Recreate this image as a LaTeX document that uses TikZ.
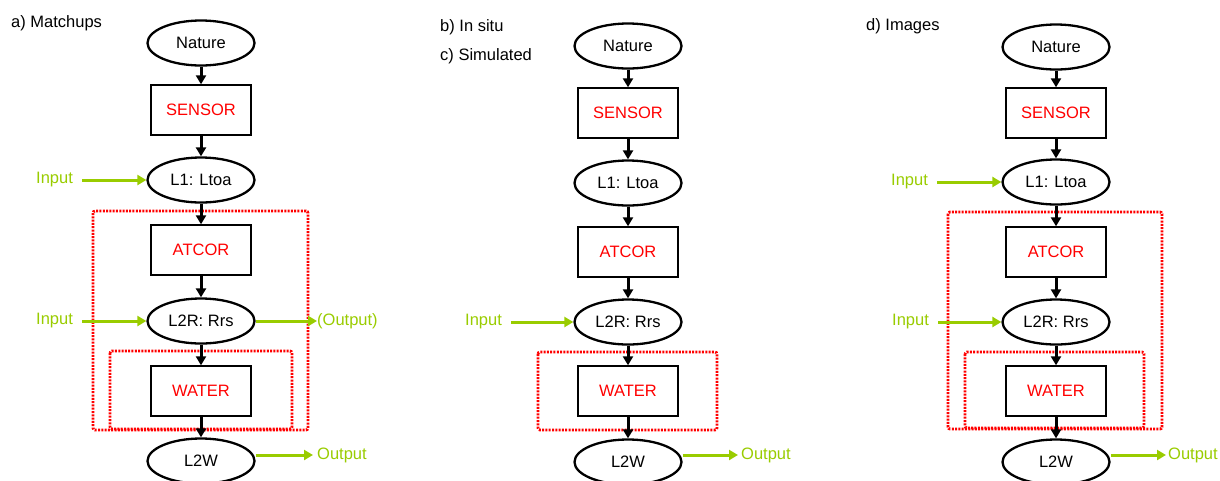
\documentclass[tikz,border=0pt]{standalone}
\usepackage{fontspec}
\setmainfont{Liberation Sans}
\usetikzlibrary{shapes,arrows.meta}
\definecolor{limegreen}{RGB}{153,204,0}

\begin{document}
\begin{tikzpicture}[x=1pt,y=-1pt,
  every node/.style={font=\fontsize{16.5}{19}\selectfont,inner sep=0pt},
  level/.style={draw,ellipse,line width=2.3pt,minimum width=107pt,minimum height=45pt},
  proc/.style={draw,rectangle,line width=1.4pt,minimum width=100pt,minimum height=50pt,text=red},
  flow/.style={-{Triangle[length=9pt,width=10pt]},line width=3pt},
  io/.style={-{Triangle[length=9pt,width=10pt]},line width=3pt,limegreen},
  iotext/.style={text=limegreen,anchor=west},
  frame/.style={red,line width=2.8pt,dash pattern=on 2pt off 1.3pt,rounded corners=2pt}]

  \useasboundingbox (0,0) rectangle (1220,480);

  % a) matchups
  \begin{scope}
    \def \x {201}
    \node[anchor=west] (ta) at (11,23) {a) Matchups};
    \draw[frame] (93,211) rectangle (308,430);
    \draw[frame] (110,351) rectangle (292,429);

    \node[level] (na) at (\x,43) {Nature};
    \node[proc] (sa) at (\x,110) {SENSOR};
    \node[level] (la) at (\x,180) {L1: Ltoa};
    \node[proc] (aa) at (\x,250) {ATCOR};
    \node[level] (ra) at (\x,321) {L2R: Rrs};
    \node[proc] (wa) at (\x,391) {WATER};
    \node[level] (wla) at (\x,461) {L2W};

    \draw[flow] (na) -- (sa);
    \draw[flow] (sa) -- (la);
    \draw[flow] (la) -- (aa);
    \draw[flow] (aa) -- (ra);
    \draw[flow] (ra) -- (wa);
    \draw[flow] (wa) -- (wla);

    \node[iotext] (ia1) at (36,180) {Input};
    \node[iotext] (ia2) at (36,321) {Input};
    \node[iotext] (oa1) at (317,321) {(Output)};
    \node[iotext] (oa2) at (317,455) {Output};
    \draw[io,shorten <=9pt] (ia1) -- (la);
    \draw[io,shorten <=9pt] (ia2) -- (ra);
    \draw[io] (ra) -- (oa1);
    \draw[io,shorten >=4pt] (wla.east |- oa2) -- (oa2);
  \end{scope}

  % b) in situ, c) simulated
  \begin{scope}
    \def \x {628}
    \node[anchor=west] (tb) at (440,27) {b) In situ};
    \node[anchor=west] (tc) at (440,56) {c) Simulated};
    \draw[frame] (538,352) rectangle (717,430);

    \node[level] (nb) at (\x,46) {Nature};
    \node[proc] (sb) at (\x,113) {SENSOR};
    \node[level] (lb) at (\x,183) {L1: Ltoa};
    \node[proc] (ab) at (\x,252) {ATCOR};
    \node[level] (rb) at (\x,322) {L2R: Rrs};
    \node[proc] (wb) at (\x,391) {WATER};
    \node[level] (wlb) at (\x,462) {L2W};

    \draw[flow] (nb) -- (sb);
    \draw[flow] (sb) -- (lb);
    \draw[flow] (lb) -- (ab);
    \draw[flow] (ab) -- (rb);
    \draw[flow] (rb) -- (wb);
    \draw[flow] (wb) -- (wlb);

    \node[iotext] (ib) at (465,322) {Input};
    \node[iotext] (ob) at (741,455) {Output};
    \draw[io,shorten <=9pt] (ib) -- (rb);
    \draw[io,shorten >=3pt] (wlb.east |- ob) -- (ob);
  \end{scope}

  % d) images
  \begin{scope}
    \def \x {1056}
    \node[anchor=west] (td) at (866,26) {d) Images};
    \draw[frame] (948,212) rectangle (1162,429);
    \draw[frame] (965,352) rectangle (1144,428);

    \node[level] (nd) at (\x,47) {Nature};
    \node[proc] (sd) at (\x,113) {SENSOR};
    \node[level] (ld) at (\x,182) {L1: Ltoa};
    \node[proc] (ad) at (\x,252) {ATCOR};
    \node[level] (rd) at (\x,322) {L2R: Rrs};
    \node[proc] (wd) at (\x,391) {WATER};
    \node[level] (wld) at (\x,462) {L2W};

    \draw[flow] (nd) -- (sd);
    \draw[flow] (sd) -- (ld);
    \draw[flow] (ld) -- (ad);
    \draw[flow] (ad) -- (rd);
    \draw[flow] (rd) -- (wd);
    \draw[flow] (wd) -- (wld);

    \node[iotext] (id1) at (891,182) {Input};
    \node[iotext] (id2) at (892,322) {Input};
    \node[iotext] (od) at (1168,455) {Output};
    \draw[io,shorten <=9pt] (id1) -- (ld);
    \draw[io,shorten <=9pt] (id2) -- (rd);
    \draw[io,shorten >=2pt] (wld.east |- od) -- (od);
  \end{scope}

\end{tikzpicture}
\end{document}
